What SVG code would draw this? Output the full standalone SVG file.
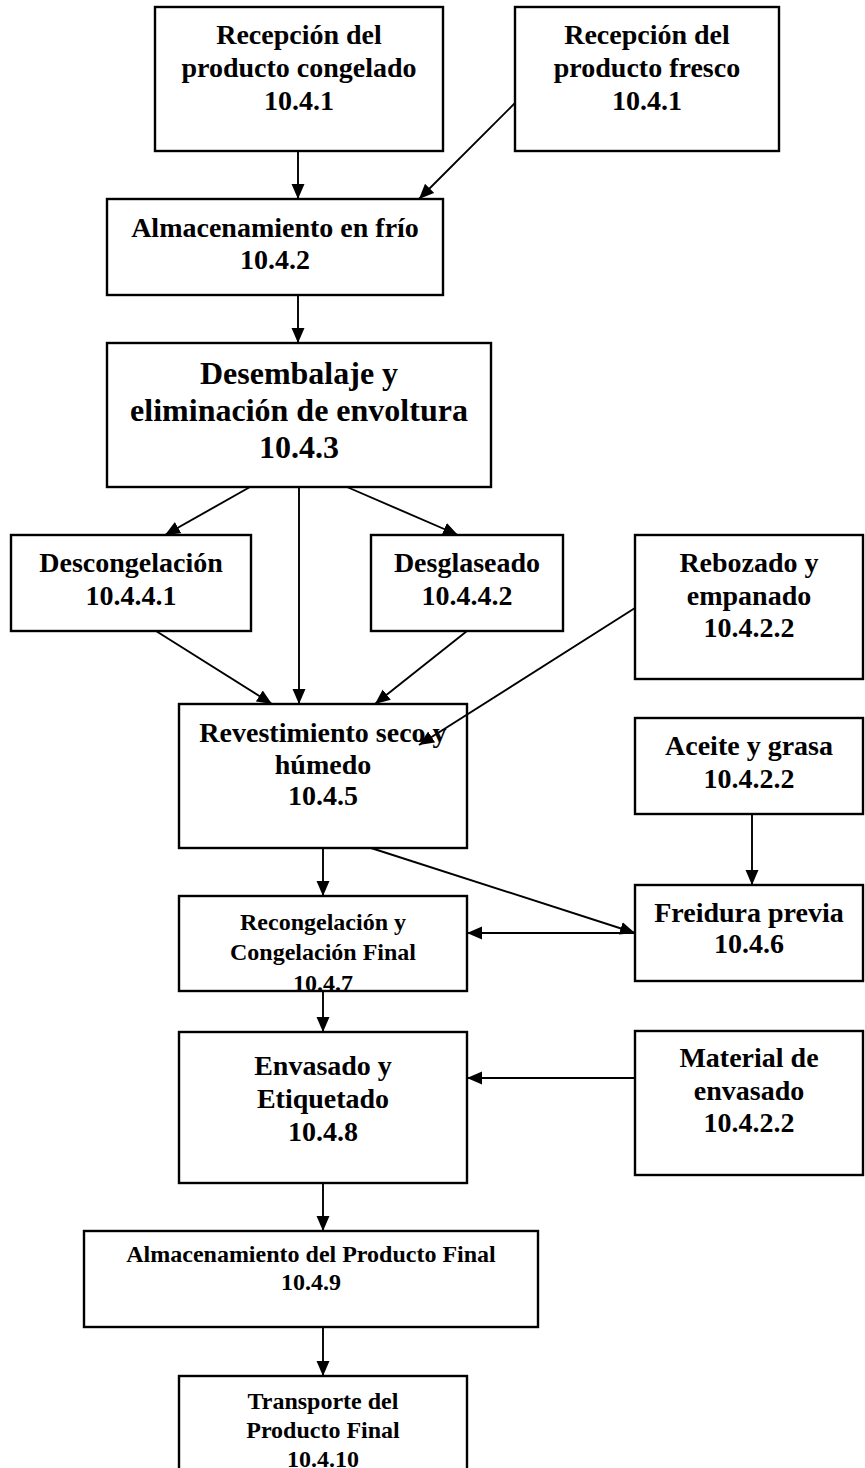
<svg xmlns="http://www.w3.org/2000/svg" width="865" height="1468" viewBox="0 0 865 1468">
<style>
.box{fill:#fff;stroke:#000;stroke-width:2.4}
.t{font-family:"Liberation Serif","Times New Roman",serif;font-weight:bold;font-size:28px;text-anchor:middle;fill:#000}
.t32{font-size:32px}
.t24{font-size:24px}
.c line{stroke:#000;stroke-width:1.9;marker-end:url(#ah)}
</style>
<defs>
<marker id="ah" markerUnits="userSpaceOnUse" markerWidth="16" markerHeight="14" refX="15" refY="6.5" orient="auto">
<path d="M0,0 L15,6.5 L0,13 z" fill="#000"/>
</marker>
<clipPath id="clipR"><rect x="180" y="897" width="286" height="93"/></clipPath>
</defs>
<rect width="865" height="1468" fill="#fff"/>
<g id="n1"><rect class="box" x="155" y="7" width="288" height="144"/>
<text class="t" x="299" y="44">Recepción del</text><text class="t" x="299" y="77">producto congelado</text><text class="t" x="299" y="110">10.4.1</text></g>
<g id="n2"><rect class="box" x="515" y="7" width="264" height="144"/>
<text class="t" x="647" y="44">Recepción del</text><text class="t" x="647" y="77">producto fresco</text><text class="t" x="647" y="110">10.4.1</text></g>
<g id="n3"><rect class="box" x="107" y="199" width="336" height="96"/>
<text class="t" x="275" y="237">Almacenamiento en frío</text><text class="t" x="275" y="269">10.4.2</text></g>
<g id="n4"><rect class="box" x="107" y="343" width="384" height="144"/>
<text class="t t32" x="299" y="384">Desembalaje y</text><text class="t t32" x="299" y="421">eliminación de envoltura</text><text class="t t32" x="299" y="458">10.4.3</text></g>
<g id="n5"><rect class="box" x="11" y="535" width="240" height="96"/>
<text class="t" x="131" y="572">Descongelación</text><text class="t" x="131" y="605">10.4.4.1</text></g>
<g id="n6"><rect class="box" x="371" y="535" width="192" height="96"/>
<text class="t" x="467" y="572">Desglaseado</text><text class="t" x="467" y="605">10.4.4.2</text></g>
<g id="n7"><rect class="box" x="635" y="535" width="228" height="144"/>
<text class="t" x="749" y="572">Rebozado y</text><text class="t" x="749" y="605">empanado</text><text class="t" x="749" y="637">10.4.2.2</text></g>
<g id="n8"><rect class="box" x="179" y="704" width="288" height="144"/>
<text class="t" x="323" y="742">Revestimiento seco y</text><text class="t" x="323" y="774">húmedo</text><text class="t" x="323" y="805">10.4.5</text></g>
<g id="n9"><rect class="box" x="635" y="718" width="228" height="96"/>
<text class="t" x="749" y="755">Aceite y grasa</text><text class="t" x="749" y="788">10.4.2.2</text></g>
<g id="n10"><rect class="box" x="179" y="896" width="288" height="95"/>
<g clip-path="url(#clipR)"><text class="t t24" x="323" y="930">Recongelación y</text><text class="t t24" x="323" y="960">Congelación Final</text><text class="t t24" x="323" y="991">10.4.7</text></g></g>
<g id="n11"><rect class="box" x="635" y="885" width="228" height="96"/>
<text class="t" x="749" y="922">Freidura previa</text><text class="t" x="749" y="953">10.4.6</text></g>
<g id="n12"><rect class="box" x="179" y="1032" width="288" height="151"/>
<text class="t" x="323" y="1075">Envasado y</text><text class="t" x="323" y="1108">Etiquetado</text><text class="t" x="323" y="1141">10.4.8</text></g>
<g id="n13"><rect class="box" x="635" y="1031" width="228" height="144"/>
<text class="t" x="749" y="1067">Material de</text><text class="t" x="749" y="1100">envasado</text><text class="t" x="749" y="1132">10.4.2.2</text></g>
<g id="n14"><rect class="box" x="84" y="1231" width="454" height="96"/>
<text class="t t24" x="311" y="1262">Almacenamiento del Producto Final</text><text class="t t24" x="311" y="1290">10.4.9</text></g>
<g id="n15"><rect class="box" x="179" y="1376" width="288" height="120"/>
<text class="t t24" x="323" y="1409">Transporte del</text><text class="t t24" x="323" y="1438">Producto Final</text><text class="t t24" x="323" y="1467">10.4.10</text></g>
<g id="connectors" class="c">
<line x1="298" y1="151" x2="298" y2="199"/>
<line x1="515" y1="103" x2="419" y2="199"/>
<line x1="298" y1="295" x2="298" y2="343"/>
<line x1="250" y1="487" x2="165" y2="535"/>
<line x1="299" y1="487" x2="299" y2="704"/>
<line x1="347" y1="487" x2="458" y2="535"/>
<line x1="156" y1="631" x2="272" y2="704"/>
<line x1="467" y1="631" x2="375" y2="704"/>
<line x1="635" y1="608" x2="419" y2="745"/>
<line x1="323" y1="848" x2="323" y2="896"/>
<line x1="371" y1="848" x2="635" y2="933"/>
<line x1="635" y1="933" x2="467" y2="933"/>
<line x1="752" y1="814" x2="752" y2="885"/>
<line x1="323" y1="991" x2="323" y2="1032"/>
<line x1="635" y1="1078" x2="467" y2="1078"/>
<line x1="323" y1="1183" x2="323" y2="1231"/>
<line x1="323" y1="1327" x2="323" y2="1376"/>
</g>
</svg>
